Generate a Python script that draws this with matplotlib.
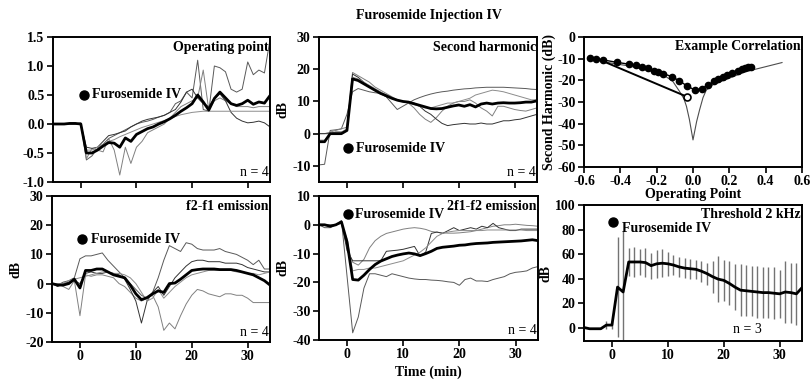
import numpy as np
from matplotlib import pyplot as plt

plt.rcParams['font.family'] = 'Liberation Serif'
plt.rcParams['font.weight'] = 'bold'
plt.rcParams['axes.labelweight'] = 'bold'
plt.rcParams['font.size'] = 10
plt.rcParams['axes.unicode_minus'] = False

# time axis (min), shared by all time-course panels
time = np.arange(-5, 35)

# operating point
op_mean = [0, 0, 0, 0.01, 0.01, 0,
           -0.5, -0.5, -0.45, -0.38, -0.32, -0.33, -0.4, -0.24, -0.3, -0.18,
           -0.13, -0.08, -0.05, 0.0, 0.04, 0.09, 0.15, 0.22, 0.28, 0.35,
           0.5, 0.38, 0.24, 0.44, 0.55, 0.45, 0.35, 0.32, 0.35, 0.41,
           0.34, 0.38, 0.36, 0.49]
op_a = [0, 0, 0, 0, 0, 0.02,
        -0.62, -0.55, -0.42, -0.35, -0.25, -0.2, -0.15, -0.1, -0.05, 0.0,
        0.03, 0.05, 0.08, 0.12, 0.15, 0.2, 0.35, 0.4, 0.55, 0.45,
        1.1, 0.25, 0.22, 1.0, 0.97, 0.9, 0.6, 0.55, 0.6, 1.07,
        0.85, 0.93, 0.88, 1.45]
op_b = [0, 0, 0, 0, 0, 0,
        -0.6, -0.42, -0.45, -0.48, -0.25, -0.45, -0.88, -0.4, -0.68, -0.4,
        -0.3, -0.15, -0.1, -0.05, 0.0, 0.1, 0.2, 0.3, 0.35, 0.4,
        0.45, 0.93, 0.24, 0.4, 0.45, 0.4, 0.35, 0.3, 0.3, 0.3,
        0.28, 0.3, 0.3, 0.3]
op_c = [0, 0, 0, 0, 0, 0,
        -0.4, -0.42, -0.4, -0.3, -0.2, -0.18, -0.15, -0.12, -0.05, 0.0,
        0.05, 0.08, 0.1, 0.12, 0.15, 0.2, 0.25, 0.38, 0.55, 0.6,
        0.45, 0.35, 0.3, 0.45, 0.52, 0.4, 0.2, 0.1, 0.05, 0.02,
        0.03, 0.05, 0.02, -0.05]
op_d = [0, 0, 0, 0, 0, 0,
        -0.45, -0.45, -0.4, -0.35, -0.3, -0.27, -0.22, -0.18, -0.14, -0.1,
        -0.06, -0.03, 0.0, 0.03, 0.06, 0.09, 0.13, 0.16, 0.18, 0.2,
        0.21, 0.22, 0.22, 0.22, 0.22, 0.22, 0.22, 0.22, 0.22, 0.22,
        0.22, 0.22, 0.22, 0.22]

# second harmonic (dB)
h2_mean = [-2.5, -2.5, 0, 0, 0, 1.0,
           17, 16.5, 15.5, 14.5, 13.5, 12.5, 11.8, 11, 10.4, 10,
           9.8, 9.3, 8.8, 8.3, 7.8, 7.7, 7.8, 8.2, 8.6, 8.9,
           8.5, 9.0, 8.3, 9.2, 9.5, 9.2, 9.5, 9.6, 9.5, 9.5,
           9.6, 9.8, 9.8, 10.2]
h2_e = [-9.7, -9.5, 1, 1.2, 1.5, 6,
        13, 14, 13.5, 13, 12.7, 12.5, 11.5, 9.5, 7.5, 8.5,
        9.5, 10.5, 11.2, 11.8, 12.3, 12.7, 13, 13.2, 13.5, 13.7,
        13.9, 14, 14.2, 14.3, 14.4, 14.4, 14.4, 14.4, 14.3, 14.2,
        14.1, 14, 13.8, 13.7]
h2_f = [0, 0, 0.5, 1, 1.5, 2,
        19, 18, 17, 16, 14.5, 13.5, 12.5, 11.5, 10.5, 10,
        9.5, 8, 6, 4.5, 3.5, 5, 7, 8.5, 9.5, 10,
        10, 10.5, 9.5, 8, 7, 5.5, 8.5, 8.5, 8, 7.5,
        7.2, 7, 7.5, 8]
h2_g = [0, 0, 0, 0.5, 0.5, 1,
        18.5, 17.5, 16, 14.5, 13.5, 12.5, 11.5, 11, 10.3, 10,
        9.7, 9.5, 8.5, 7, 6, 4.5, 3.2, 2.5, 2.8, 3,
        3.2, 3, 3, 3.3, 3, 3, 3.5, 4, 4, 4.3,
        4.5, 5, 5.5, 6]
h2_h = [-2, -2, 0, 0.5, 0.5, 1.5,
        17.5, 17, 16, 15, 14, 13, 12, 11, 10.5, 10,
        9.5, 9, 8.5, 8, 8, 8.5, 9, 9.5, 9.5, 10,
        10.5, 11, 12, 12.5, 13, 13.5, 13.3, 13, 12.5, 12,
        11.5, 11, 10.5, 10.5]

# example correlation: second harmonic vs operating point
corr_op = [-0.566, -0.533, -0.493, -0.419, -0.355, -0.313, -0.28, -0.245,
           -0.214, -0.19, -0.163, -0.117, -0.075, -0.035, 0.011, 0.048,
           0.081, 0.117, 0.139, 0.163, 0.185, 0.213, 0.249, 0.267, 0.286,
           0.304, 0.317]
corr_h2 = [-9.5, -10.0, -10.6, -11.7, -12.5, -13.1, -13.7, -14.5,
           -15.5, -16.2, -16.9, -18.3, -20.2, -22.5, -24.5, -23.8,
           -22.2, -20.5, -19.4, -18.4, -17.6, -16.8, -15.7, -14.9, -14.5,
           -14.0, -13.7]
model_op = [-0.49, -0.44, -0.35, -0.28, -0.2, -0.15, -0.11, -0.075, -0.05,
            -0.036, -0.02, 0, 0.02, 0.036, 0.055, 0.073, 0.11, 0.2, 0.29,
            0.4, 0.49]
model_h2 = [-11.4, -12.2, -13.4, -14.8, -16.3, -18.2, -20.6, -25, -28.5,
            -32, -38, -47.5, -39, -33.7, -28, -24.5, -22, -19, -16,
            -13.7, -11.8]
shift_op = [-0.5, -0.035]
shift_h2 = [-11.0, -27.5]

# f2-f1 emission (dB)
f21_mean = [0, -0.5, -0.5, 0, 1.5, -1.5,
            4.5, 4.5, 5, 5, 4, 3, 2.5, 2, -0.5, -3.5,
            -5.5, -4.8, -3.5, -2.5, -3, 0, 0.2, 1.5, 3, 4.5,
            4.8, 5, 5, 5, 4.8, 4.8, 4.8, 4.5, 4, 3.5,
            3, 2, 1, -0.5]
f21_a = [0, -0.5, 0.5, 1, 2, 8.5,
         9.5, 9.5, 10, 10.5, 8, 6, 4, 2, 0, -2,
         -4, -5, -3, 2, 8, 13, 12, 11, 14, 13.5,
         12, 11.5, 11.5, 11.5, 12, 11, 10.5, 10, 9, 8,
         6.5, 8, 5, 5]
f21_b = [0, 0, -1, -2, 1, -11,
         3, 2.5, 3, 3, 2.5, 2, 0, -1, -3, -5,
         -6, -5, -4, -8, -16, -13.5, -15.5, -11, -7, -4,
         -2, -2.5, -3.5, -4, -4.5, -3.5, -3.5, -4, -4, -5,
         -6.5, -6.5, -6.5, -6.5]
f21_c = [0, -1, 0, 0.5, 1, 0,
         3.5, 4, 3.5, 3.5, 4, 3.5, 3, 1.5, -2, -6,
         -13.5, -6, -3, -1, -4, -1, 2, 4, 6, 7.5,
         8, 8, 7.5, 7.5, 7.5, 7, 7, 7, 6.5, 5.5,
         5, 4.5, 4, 4]
f21_d = [0, 0, 0, 1, 1.5, 2,
         2.5, 3, 3.5, 4, 4, 3.5, 3.5, 3, 2, 0,
         -3, -6, -5, -2, -5, -3, -1, 0.5, 2, 3,
         3.5, 4, 4.5, 4.5, 4.5, 4.5, 4.5, 4, 4, 3.5,
         3.5, 3, 3.5, 4]

# 2f1-f2 emission (dB)
f2f_mean = [0, 0, -0.5, 0, 1, -6,
            -19, -19.2, -17.5, -15.5, -13.8, -12.6, -11.8, -11, -10.5, -10.1,
            -9.8, -10.1, -10.7, -10, -9.2, -8.2, -7.8, -7.6, -7.4, -7.1,
            -7, -6.7, -6.5, -6.4, -6.3, -6.1, -6, -5.9, -5.8, -5.7,
            -5.6, -5.4, -5.2, -5.5]
f2f_a = [0, -1, -1, 0, 1.5, -18,
         -37.5, -32, -22, -17, -17, -17.5, -18, -17, -17.5, -18,
         -18.5, -18.8, -19, -19, -19.2, -19.3, -19.5, -19.8, -20, -21,
         -19, -18.5, -19.5, -19.5, -19.7, -19, -18.5, -18, -17, -16.5,
         -16.3, -16, -15, -14.5]
f2f_b = [0, 0, -0.5, 0, 1, -8,
         -13, -14, -12, -8, -5.5, -4, -3, -2.5, -2, -1.5,
         -1.2, -1, -1.2, -1.6, -2.3, -2.6, -2.8, -2.9, -2.9, -2.8,
         -2.6, -2.4, -2, -1.5, -1, -0.5, -0.3, 0, 0, 0.2,
         0, -0.2, -0.3, -0.5]
f2f_c = [0, 0, 0, 0, 1, -9,
         -12.5, -12.5, -12.5, -12.5, -12.5, -12.5, -9.2, -9, -8.8, -8.5,
         -8, -7.5, -10.8, -9.5, -3, -2.5, -3, -2, -1, -2,
         -1.5, -1, -1.5, -0.5, -1, 0.5, -1, -1.5, -2, -2,
         -1.5, -1.5, -1.5, -1.5]
f2f_d = [0, 0, 0, 0, 0.5, -5,
         -16, -15.5, -15.5, -15, -15, -14.5, -14, -13.5, -13, -12.5,
         -11.5, -10.5, -9.5, -8, -6, -4, -3, -2.5, -2.2, -2,
         -2, -2, -2, -2, -1.8, -1.8, -1.8, -1.8, -1.8, -1.8,
         -1.8, -2, -2, -2]

# threshold at 2 kHz (dB), mean and error
thr_mean = [0, -1, -1, -1, 2, 2,
            33, 29, 53.5, 53.5, 53.5, 53, 50.5, 52, 52.5, 52,
            51, 49.5, 48.5, 48, 47.5, 46, 44, 41.5, 39.5, 38.5,
            36, 33, 30.5, 30, 29.5, 29, 28.5, 28.5, 28, 27.5,
            29, 28.5, 27.5, 32.5]
thr_err = [0, 0, 0, 0, 3.5, 3,
           40.5, 50, 11.5, 12, 10.5, 11.5, 10.5, 11.5, 11.5, 10,
           8.5, 8, 8, 8, 8, 8.5, 9, 13, 18.5, 17,
           18, 19, 21.5, 21, 20.5, 21, 20.5, 20.5, 21, 19.5,
           25, 24.5, 25.5, 0]

time_ticks = [0, 10, 20, 30]

W, H = 811, 386


def axes_px(fig, left, right, top, bottom):
    return fig.add_axes([left / W, (H - bottom) / H, (right - left) / W, (bottom - top) / H])


def set_ticks(ax, xticks, yticks, xfmt='%g', yfmt='%g', xlabels=True):
    xl = [xfmt % v for v in xticks] if xlabels else [''] * len(xticks)
    ax.set_xticks(xticks, xl, fontweight='bold', fontsize=10)
    ax.set_yticks(yticks, [yfmt % v for v in yticks], fontweight='bold', fontsize=10)
    for s in ax.spines.values():
        s.set_linewidth(1.4)
    ax.tick_params(direction='out', width=1.2, length=4, pad=2)


def time_panel(ax, mean, singles, colors, ylim):
    for y, c in zip(singles, colors):
        ax.plot(time, y, color=c, lw=0.7)
    ax.plot(time, mean, color='black', lw=2.0)
    ax.set_xlim(-5, 34)
    ax.set_ylim(*ylim)


def furosemide(ax, x, y, tx, ty):
    ax.plot([x], [y], 'o', color='black', ms=6.5)
    ax.text(tx, ty, 'Furosemide IV', va='center', ha='left', fontsize=10)


def corner(ax, label):
    ax.text(0.995, 0.975, label, transform=ax.transAxes, ha='right', va='top', fontsize=10)


def n_label(ax, label):
    ax.text(0.995, 0.02, label, transform=ax.transAxes, ha='right', va='bottom',
            fontsize=10, fontweight='normal')


fig = plt.figure(figsize=(W / 100, H / 100), dpi=100)
thin_colors = ['0.35', '0.5', '0.2', '0.55']

# operating point
ax1 = axes_px(fig, 53, 270, 37, 182)
time_panel(ax1, op_mean, [op_a, op_b, op_c, op_d], thin_colors, (-1.0, 1.5))
set_ticks(ax1, time_ticks, [-1.0, -0.5, 0.0, 0.5, 1.0, 1.5], yfmt='%.1f', xlabels=False)
corner(ax1, 'Operating point')
furosemide(ax1, 0.6, 0.5, 2.0, 0.5)
n_label(ax1, 'n = 4')

# second harmonic
ax2 = axes_px(fig, 319, 537, 37, 182)
time_panel(ax2, h2_mean, [h2_e, h2_f, h2_g, h2_h], thin_colors, (-15, 30))
set_ticks(ax2, time_ticks, [-10, 0, 10, 20, 30], xlabels=False)
ax2.set_ylabel('dB', labelpad=2, fontsize=10)
corner(ax2, 'Second harmonic')
furosemide(ax2, 0.2, -4.5, 1.7, -4.5)
n_label(ax2, 'n = 4')

# example correlation
ax3 = axes_px(fig, 584, 802, 37, 167)
ax3.plot(model_op, model_h2, color='0.3', lw=0.8)
ax3.plot(shift_op, shift_h2, color='black', lw=1.4)
ax3.plot(corr_op, corr_h2, 'o-', color='black', ms=4.5, lw=1.0)
ax3.plot(shift_op[-1:], shift_h2[-1:], 'o', mfc='white', mec='black', ms=5, mew=1.2)
ax3.set_xlim(-0.6, 0.6)
ax3.set_ylim(-60, 0)
set_ticks(ax3, [-0.6, -0.4, -0.2, 0.0, 0.2, 0.4, 0.6], [-60, -50, -40, -30, -20, -10, 0],
          xfmt='%.1f')
ax3.set_xlabel('Operating Point', labelpad=0, fontsize=10)
ax3.set_ylabel('Second Harmonic (dB)', labelpad=1, fontsize=10)
corner(ax3, 'Example Correlation')

# f2-f1 emission
ax4 = axes_px(fig, 52, 270, 196, 342)
time_panel(ax4, f21_mean, [f21_a, f21_b, f21_c, f21_d], thin_colors, (-20, 30))
set_ticks(ax4, time_ticks, [-20, -10, 0, 10, 20, 30])
ax4.set_ylabel('dB', labelpad=2, fontsize=10)
corner(ax4, 'f2-f1 emission')
furosemide(ax4, 0.4, 15.2, 1.9, 15.2)
n_label(ax4, 'n = 4')

# 2f1-f2 emission
ax5 = axes_px(fig, 319, 538, 196, 340)
time_panel(ax5, f2f_mean, [f2f_a, f2f_b, f2f_c, f2f_d], thin_colors, (-40, 10))
set_ticks(ax5, time_ticks, [-40, -30, -20, -10, 0, 10])
ax5.set_ylabel('dB', labelpad=2, fontsize=10)
ax5.set_xlabel('Time (min)', labelpad=3, fontsize=10)
corner(ax5, '2f1-f2 emission')
furosemide(ax5, 0.2, 3.7, 1.4, 3.7)
n_label(ax5, 'n = 4')

# threshold at 2 kHz
ax6 = axes_px(fig, 584, 802, 205, 341)
ax6.errorbar(time, thr_mean, yerr=thr_err, fmt='none', ecolor='0.45', elinewidth=1.0)
ax6.plot(time, thr_mean, color='black', lw=2.0)
ax6.set_xlim(-5, 34)
ax6.set_ylim(-11, 100)
set_ticks(ax6, time_ticks, [0, 20, 40, 60, 80, 100])
ax6.set_ylabel('dB', labelpad=2, fontsize=10)
corner(ax6, 'Threshold 2 kHz')
furosemide(ax6, 0.1, 86, 1.8, 81)
ax6.text(24.3, -2, 'n = 3', ha='center', va='center', fontsize=10, fontweight='normal')

fig.text(429 / W, 1 - 15 / H, 'Furosemide Injection IV', ha='center', va='center', fontsize=10)

fig.savefig('out.png', dpi=100)
